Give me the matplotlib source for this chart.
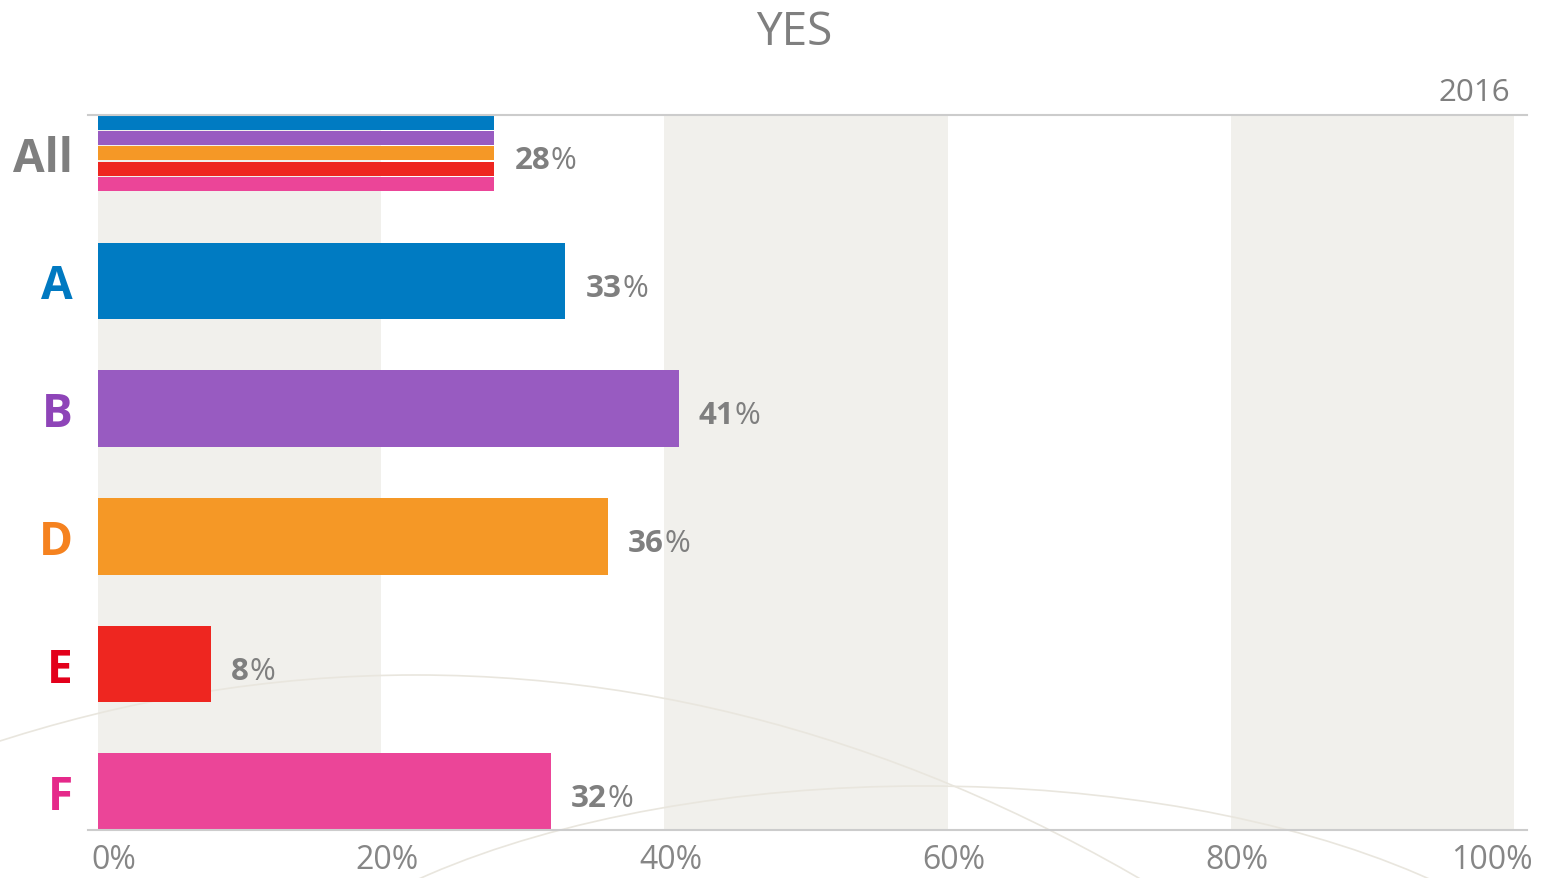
import numpy as np
import matplotlib.pyplot as plt
from matplotlib import transforms
from matplotlib.patches import Ellipse

# Share answering "yes" per group, 2016
groups = ['All', 'A', 'B', 'D', 'E', 'F']
yes_share = [28, 33, 41, 36, 8, 32]
year = '2016'

bar_colors = ['#007BC2', '#985BC1', '#F59826', '#EE2620', '#EB4598']
name_colors = ['#7F7F7F', '#0079C1', '#8E44B8', '#F5821F', '#E3001B', '#E5298A']
tick_vals = [0, 20, 40, 60, 80, 100]

GREY = '#7F7F7F'
BAND = '#F1F0EC'
CURVE = '#E9E6DE'

plt.rcParams['font.family'] = ['Open Sans', 'DejaVu Sans']

W, H = 1545, 879
fig = plt.figure(figsize=(W / 100, H / 100), dpi=100)
ax = fig.add_axes([88 / W, (H - 831) / H, (1527 - 88) / W, (831 - 116) / H])
ax.set_xlim(-0.7, 100.9)
ax.set_ylim(len(groups) - 0.7, -0.3)

# alternating shaded columns
for start in tick_vals[:-1:2]:
    ax.axvspan(start, start + 20, color=BAND, lw=0, zorder=0.5)

# two faint decorative arcs, laid out in pixel space
px = transforms.Affine2D().scale(1 / W, -1 / H).translate(0, 1) + fig.transFigure
for cx, cy, w, h in [(416, 676 + 3658, 4400, 7316), (924, 787 + 302, 1400, 604)]:
    ax.add_patch(Ellipse((cx, cy), w, h, transform=px, fill=False,
                         ec=CURVE, lw=1.2, zorder=1, clip_on=False))

bar_h = 0.6
y = np.arange(len(groups))

# the "All" row is drawn as thin strips, one per group colour
strip = bar_h / len(bar_colors)
for k, c in enumerate(bar_colors):
    ax.barh(-bar_h / 2 + strip * (k + 0.5), yes_share[0], height=strip - 0.009,
            color=c, lw=0, zorder=2)
ax.barh(y[1:], yes_share[1:], height=bar_h, color=bar_colors, lw=0, zorder=2)

# value labels: bold number followed by a regular percent sign
lab_tr = transforms.offset_copy(ax.transData, fig=fig, x=20, y=0, units='dots')
for i, v in enumerate(yes_share):
    t = ax.text(v, i + 0.115, f'{v}', transform=lab_tr, fontsize=22.5,
                fontweight='bold', color=GREY, ha='left', va='baseline', zorder=3)
    ax.annotate('%', xy=(1, 0), xycoords=t, xytext=(0.5, 0),
                textcoords='offset points', fontsize=22.5, color=GREY,
                ha='left', va='bottom', zorder=3)

# group names to the left of the bars
name_tr = transforms.blended_transform_factory(fig.transFigure, ax.transData)
for i, name in enumerate(groups):
    ax.text(73 / W, i + 0.137, name, transform=name_tr, ha='right', va='baseline',
            fontsize=33, fontweight='bold', color=name_colors[i])

ax.set_yticks([])
ax.set_xticks(tick_vals, [f'{v}%' for v in tick_vals])
ax.tick_params(axis='x', length=0, pad=9.5, labelsize=23, labelcolor='#868686')
shifts = [-7, 6, 6, 6, 6, 18]
aligns = ['left', 'center', 'center', 'center', 'center', 'right']
for lab, dx, ha in zip(ax.get_xticklabels(), shifts, aligns):
    lab.set_ha(ha)
    lab.set_transform(lab.get_transform() +
                      transforms.ScaledTranslation(dx / 100, 0, fig.dpi_scale_trans))

for side in ['left', 'right']:
    ax.spines[side].set_visible(False)
for side in ['top', 'bottom']:
    ax.spines[side].set_color('#CCCCCC')
    ax.spines[side].set_linewidth(1.5)

fig.text(794.5 / W, 1 - 45 / H, 'YES', ha='center', va='baseline',
         fontsize=33, color=GREY)
fig.text(1510 / W, 1 - 101 / H, year, ha='right', va='baseline',
         fontsize=22.5, color=GREY)

fig.savefig('out.png', dpi=100)
